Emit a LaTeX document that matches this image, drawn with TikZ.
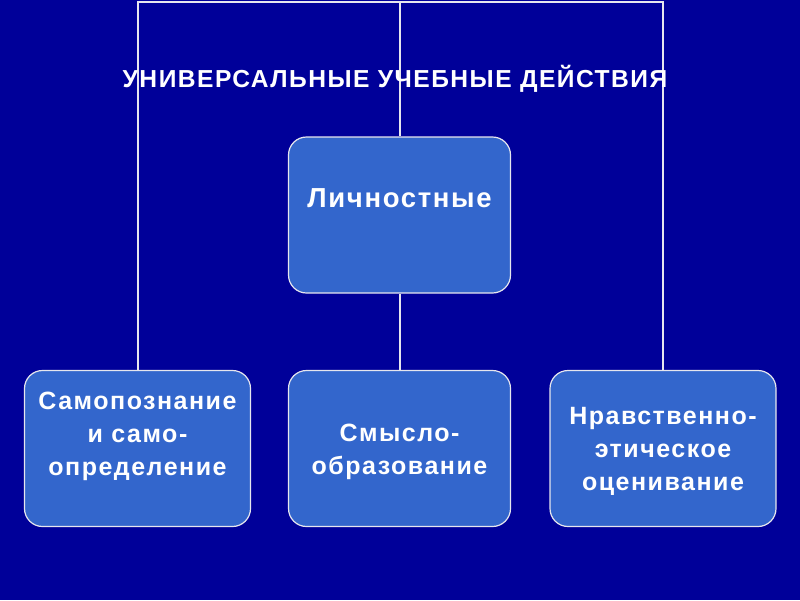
\documentclass[tikz,border=0pt]{standalone}
\usepackage{fontspec}
\setmainfont{Liberation Sans}[LetterSpace=6]
\definecolor{bg}{HTML}{000099}
\definecolor{boxfill}{HTML}{3366CC}
\definecolor{linec}{HTML}{E6E6EE}
\begin{document}
\begin{tikzpicture}[x=1pt,y=-1pt,
  item/.style={draw=linec, line width=1.2pt, fill=boxfill, rounded corners=18pt,
    minimum width=222pt, minimum height=156pt, text=white, align=center, inner sep=0pt},
  label/.style={text=white, align=center, font=\fontsize{25}{33}\selectfont\bfseries},
  conn/.style={draw=linec, line width=2pt}]
\fill[bg] (0,0) rectangle (800,600);
\useasboundingbox (0,0) rectangle (800,600);
\coordinate (tl) at (137.5,2);
\coordinate (tm) at (399.5,2);
\coordinate (tr) at (663,2);
\node[item] (top) at (399.5,215) {};
\node[item, minimum width=226pt] (b1) at (137.5,448.5) {};
\node[item] (b2) at (399.5,448.5) {};
\node[item, minimum width=226pt] (b3) at (663,448.5) {};
\draw[conn] (b1.north) -- (tl) -- (tr) -- (b3.north);
\draw[conn] (tm) -- (top.north);
\draw[conn] (top.south) -- (b2.north);
\node[text=white, font=\fontsize{24.6}{28}\selectfont\bfseries] (title) at (395,79) {УНИВЕРСАЛЬНЫЕ УЧЕБНЫЕ ДЕЙСТВИЯ};
\node[label, font=\fontsize{27.5}{33}\selectfont\bfseries] (t0) at (399.5,198) {Личностные};
\node[label] (t1) at (137.5,436) {Самопознание\\и само-\\определение};
\node[label] (t2) at (399.5,452) {Смысло-\\образование};
\node[label] (t3) at (663,451) {Нравственно-\\этическое\\оценивание};
\end{tikzpicture}
\end{document}
